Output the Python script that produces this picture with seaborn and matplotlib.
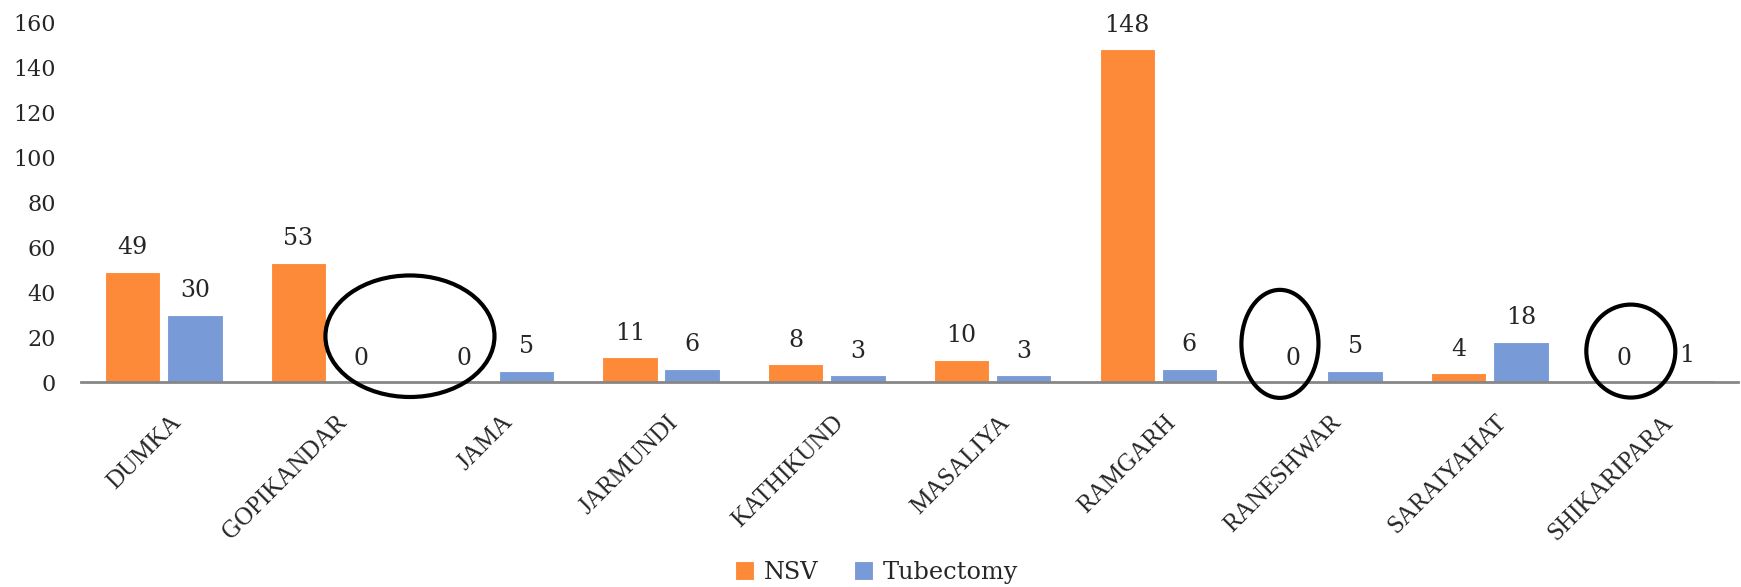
import matplotlib
matplotlib.use("Agg")
import matplotlib.pyplot as plt
import matplotlib.transforms as mtransforms
from matplotlib.patches import Ellipse
import seaborn as sns
import pandas as pd

# datos del grafico
blocks = ["DUMKA", "GOPIKANDAR", "JAMA", "JARMUNDI", "KATHIKUND",
          "MASALIYA", "RAMGARH", "RANESHWAR", "SARAIYAHAT", "SHIKARIPARA"]
nsv = [49, 53, 0, 11, 8, 10, 148, 0, 4, 0]
tubectomy = [30, 0, 5, 6, 3, 3, 6, 5, 18, 1]
series = ["NSV", "Tubectomy"]
colors = ["#FD8A39", "#789BD7"]

df = pd.DataFrame({
    "Block": blocks * 2,
    "Serie": ["NSV"] * len(blocks) + ["Tubectomy"] * len(blocks),
    "Valor": nsv + tubectomy,
})

sns.set_theme(style="white")
plt.rcParams["font.family"] = ["DejaVu Serif"]

fig = plt.figure(figsize=(17.41, 5.87), dpi=100)
ax = fig.add_axes([0.0465, 0.349, 0.952, 0.6135])

sns.barplot(data=df, x="Block", y="Valor", hue="Serie", hue_order=series,
            palette=colors, saturation=1, width=0.75, gap=0.11,
            edgecolor="white", linewidth=0.8, ax=ax, legend=True)

# etiquetas de valor encima de cada barra
for cont in ax.containers:
    for bar in cont:
        h = bar.get_height()
        ax.annotate(f"{int(h)}", xy=(bar.get_x() + bar.get_width() / 2, h),
                    xytext=(0, 9), textcoords="offset points",
                    ha="center", va="bottom", fontsize=17, zorder=6)

# elipses marcando los ceros
for cx, cy, w, h in [(1.485, 20.4, 1.02, 54), (6.734, 17, 0.465, 48), (8.851, 13.8, 0.537, 41.3)]:
    ax.add_patch(Ellipse((cx, cy), w, h, fill=False, edgecolor="black",
                         linewidth=3, clip_on=False, zorder=5))

ax.set_ylim(0, 160)
ax.set_xlim(-0.5, len(blocks) - 0.5)
ax.set_yticks(range(0, 161, 20))
ax.tick_params(axis="y", labelsize=16, length=0, pad=18)
ax.tick_params(axis="x", length=0, pad=21)
shift = mtransforms.ScaledTranslation(0.06, 0, fig.dpi_scale_trans)
for lbl in ax.get_xticklabels():
    lbl.set_family("Liberation Serif")
    lbl.set_fontsize(18)
    lbl.set_rotation(45)
    lbl.set_ha("right")
    lbl.set_rotation_mode("anchor")
    lbl.set_transform(lbl.get_transform() + shift)
ax.set_xlabel("")
ax.set_ylabel("")
for s in ["top", "right", "left"]:
    ax.spines[s].set_visible(False)
ax.spines["bottom"].set_color("#868686")
ax.spines["bottom"].set_linewidth(2)

ax.legend(loc="lower center", bbox_to_anchor=(0.48, -0.62), ncol=2, frameon=False,
          fontsize=17.3, handlelength=0.8, handleheight=0.8, columnspacing=1.5,
          handletextpad=0.4)

fig.savefig("out.png", dpi=100)
